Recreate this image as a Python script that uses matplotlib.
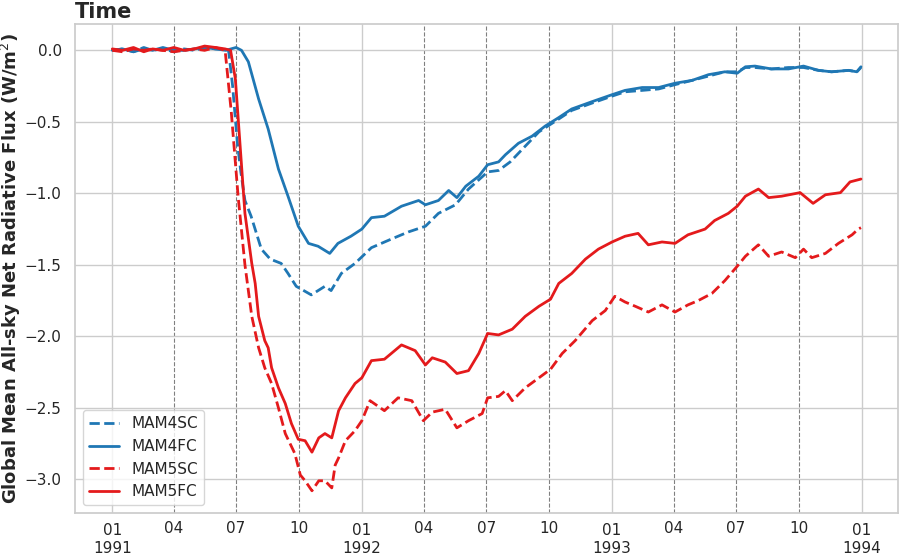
import matplotlib
matplotlib.use("Agg")
import matplotlib.pyplot as plt
import matplotlib.dates as mdates
import seaborn as sns
import pandas as pd

# values (W/m^2), one date list per run
pre_dates = ["1991-01-01", "1991-01-16", "1991-02-01", "1991-02-16", "1991-03-01",
             "1991-03-16", "1991-04-01", "1991-04-16", "1991-05-01", "1991-05-16",
             "1991-06-01"]

mam4sc_dates = pre_dates + [
    "1991-06-15", "1991-06-20", "1991-06-26", "1991-07-03", "1991-07-08", "1991-07-14",
    "1991-07-23", "1991-08-07", "1991-08-20", "1991-09-05", "1991-09-15", "1991-09-27",
    "1991-10-19", "1991-11-08", "1991-11-17", "1991-12-02", "1991-12-22",
    "1992-01-15", "1992-02-13", "1992-03-09", "1992-04-03", "1992-04-22", "1992-05-17",
    "1992-06-05", "1992-07-03", "1992-07-19", "1992-08-05", "1992-08-27", "1992-09-16",
    "1992-10-15", "1992-11-03", "1992-12-02", "1993-01-01", "1993-01-20", "1993-02-14",
    "1993-03-10", "1993-04-03", "1993-04-28", "1993-05-22", "1993-06-15", "1993-07-03",
    "1993-07-15", "1993-07-29", "1993-08-22", "1993-09-16", "1993-10-08", "1993-10-30",
    "1993-11-18", "1993-12-13", "1993-12-25", "1993-12-31"]
mam4sc = [0.00, 0.01, -0.01, 0.02, 0.00, 0.01, -0.01, 0.01, 0.00, 0.02, 0.01,
          0.01, 0.00, -0.25, -0.65, -0.85, -1.05,
          -1.16, -1.39, -1.46, -1.49, -1.56, -1.65,
          -1.71, -1.65, -1.68, -1.56, -1.49,
          -1.38, -1.32, -1.27, -1.23, -1.14, -1.08,
          -0.97, -0.85, -0.84, -0.78, -0.67, -0.57,
          -0.48, -0.42, -0.37, -0.32, -0.29, -0.28,
          -0.27, -0.24, -0.21, -0.18, -0.15, -0.15,
          -0.12, -0.12, -0.13, -0.12, -0.12, -0.14,
          -0.15, -0.14, -0.15, -0.12]

mam4fc_dates = pre_dates + [
    "1991-06-16", "1991-07-01", "1991-07-09", "1991-07-19", "1991-08-03", "1991-08-17",
    "1991-09-01", "1991-09-15", "1991-09-30", "1991-10-15", "1991-10-29", "1991-11-15",
    "1991-11-27", "1991-12-16", "1992-01-01", "1992-01-15", "1992-02-03", "1992-02-28",
    "1992-03-24", "1992-04-03", "1992-04-22", "1992-05-07", "1992-05-19", "1992-06-01",
    "1992-06-20", "1992-07-03", "1992-07-19", "1992-07-29", "1992-08-17", "1992-09-06",
    "1992-09-25", "1992-10-15", "1992-11-03", "1992-12-02", "1993-01-01", "1993-01-20",
    "1993-02-14", "1993-03-10", "1993-04-03", "1993-04-28", "1993-05-22", "1993-06-15",
    "1993-07-03", "1993-07-15", "1993-07-29", "1993-08-22", "1993-09-16", "1993-10-08",
    "1993-10-30", "1993-11-18", "1993-12-13", "1993-12-25", "1993-12-31"]
mam4fc = [0.00, 0.01, -0.01, 0.01, 0.00, 0.02, 0.00, 0.00, 0.01, 0.02, 0.01,
          0.00, 0.02, 0.00, -0.08, -0.34, -0.55,
          -0.83, -1.02, -1.23, -1.35, -1.37, -1.42,
          -1.35, -1.30, -1.25, -1.17, -1.16, -1.09,
          -1.05, -1.08, -1.05, -0.98, -1.03, -0.95,
          -0.88, -0.80, -0.78, -0.73, -0.65, -0.60,
          -0.53, -0.47, -0.41, -0.36, -0.31, -0.28,
          -0.26, -0.26, -0.23, -0.21, -0.17, -0.15,
          -0.16, -0.115, -0.11, -0.13, -0.13, -0.11,
          -0.14, -0.15, -0.14, -0.15, -0.115]

mam5sc_dates = pre_dates + [
    "1991-06-15", "1991-06-24", "1991-07-04", "1991-07-14", "1991-07-24", "1991-08-03",
    "1991-08-12", "1991-08-22", "1991-09-01", "1991-09-11", "1991-09-25", "1991-10-03",
    "1991-10-10", "1991-10-20", "1991-10-30", "1991-11-08", "1991-11-18", "1991-11-23",
    "1991-11-28", "1991-12-08", "1991-12-22", "1992-01-01", "1992-01-13", "1992-02-03",
    "1992-02-23", "1992-03-14", "1992-03-31", "1992-04-13", "1992-05-02", "1992-05-19",
    "1992-06-05", "1992-06-25", "1992-07-03", "1992-07-19", "1992-07-29", "1992-08-08",
    "1992-08-27", "1992-09-16", "1992-10-03", "1992-10-20", "1992-11-08", "1992-12-03",
    "1992-12-22", "1993-01-05", "1993-01-20", "1993-02-04", "1993-02-23", "1993-03-15",
    "1993-04-03", "1993-04-22", "1993-05-07", "1993-05-27", "1993-06-15", "1993-07-03",
    "1993-07-15", "1993-08-03", "1993-08-18", "1993-09-06", "1993-09-26", "1993-10-08",
    "1993-10-20", "1993-11-09", "1993-11-28", "1993-12-18", "1993-12-27", "1993-12-31"]
mam5sc = [0.00, -0.01, 0.01, 0.00, 0.01, 0.00, -0.01, 0.00, 0.01, 0.00, 0.02,
          0.00, -0.43, -1.02, -1.50, -1.86, -2.08,
          -2.22, -2.33, -2.50, -2.68, -2.82, -2.97,
          -3.01, -3.08, -3.01, -3.01, -3.06, -2.90,
          -2.85, -2.73, -2.66, -2.59, -2.45, -2.52,
          -2.43, -2.45, -2.59, -2.53, -2.51, -2.64,
          -2.59, -2.54, -2.43, -2.42, -2.38, -2.45,
          -2.36, -2.29, -2.23, -2.12, -2.03, -1.89,
          -1.82, -1.72, -1.76, -1.79, -1.83, -1.78,
          -1.83, -1.78, -1.75, -1.70, -1.61, -1.51,
          -1.44, -1.36, -1.44, -1.41, -1.45, -1.39,
          -1.45, -1.42, -1.35, -1.29, -1.25, -1.24]

mam5fc_dates = pre_dates + [
    "1991-06-15", "1991-06-23", "1991-06-30", "1991-07-07", "1991-07-14", "1991-07-24",
    "1991-07-29", "1991-08-03", "1991-08-12", "1991-08-17", "1991-08-22", "1991-09-01",
    "1991-09-11", "1991-09-20", "1991-09-30", "1991-10-10", "1991-10-20", "1991-10-30",
    "1991-11-08", "1991-11-18", "1991-11-28", "1991-12-08", "1991-12-22", "1992-01-01",
    "1992-01-15", "1992-02-03", "1992-02-28", "1992-03-19", "1992-04-03", "1992-04-13",
    "1992-05-02", "1992-05-19", "1992-06-05", "1992-06-20", "1992-07-03", "1992-07-19",
    "1992-08-08", "1992-08-27", "1992-09-16", "1992-10-03", "1992-10-15", "1992-11-03",
    "1992-11-23", "1992-12-12", "1993-01-01", "1993-01-20", "1993-02-08", "1993-02-23",
    "1993-03-15", "1993-04-03", "1993-04-22", "1993-05-17", "1993-05-31", "1993-06-20",
    "1993-07-03", "1993-07-15", "1993-08-03", "1993-08-18", "1993-09-06", "1993-10-03",
    "1993-10-22", "1993-11-09", "1993-12-01", "1993-12-15", "1993-12-31"]
mam5fc = [0.01, 0.00, 0.02, -0.01, 0.01, 0.00, 0.02, 0.00, 0.01, 0.03, 0.02,
          0.01, 0.00, -0.20, -0.67, -1.14, -1.49,
          -1.63, -1.86, -2.03, -2.08, -2.22, -2.36,
          -2.47, -2.61, -2.72, -2.73, -2.81, -2.71,
          -2.68, -2.71, -2.52, -2.43, -2.33, -2.29,
          -2.17, -2.16, -2.06, -2.10, -2.20, -2.15,
          -2.18, -2.26, -2.24, -2.12, -1.98, -1.99,
          -1.95, -1.86, -1.79, -1.74, -1.63, -1.56,
          -1.46, -1.39, -1.34, -1.30, -1.28, -1.36,
          -1.34, -1.35, -1.29, -1.25, -1.19, -1.14,
          -1.09, -1.02, -0.97, -1.03, -1.02, -0.995,
          -1.07, -1.01, -0.995, -0.92, -0.90]

blue = "#1f77b4"
red = "#e41a1c"

sns.set_theme(style="whitegrid")
plt.rcParams["font.family"] = ["DejaVu Sans"]

fig, ax = plt.subplots(figsize=(9.02, 5.54), dpi=100)
fig.subplots_adjust(left=0.083, right=0.996, top=0.957, bottom=0.074)

lw = 2.0
ax.plot(pd.to_datetime(mam4sc_dates), mam4sc, color=blue, ls="--", lw=lw, label="MAM4SC")
ax.plot(pd.to_datetime(mam4fc_dates), mam4fc, color=blue, ls="-", lw=lw, label="MAM4FC")
ax.plot(pd.to_datetime(mam5sc_dates), mam5sc, color=red, ls="--", lw=lw, label="MAM5SC")
ax.plot(pd.to_datetime(mam5fc_dates), mam5fc, color=red, ls="-", lw=lw, label="MAM5FC")

ax.xaxis.set_major_locator(mdates.MonthLocator(bymonth=[1]))
ax.xaxis.set_major_formatter(mdates.DateFormatter("%m\n%Y"))
ax.xaxis.set_minor_locator(mdates.MonthLocator(bymonth=[4, 7, 10]))
ax.xaxis.set_minor_formatter(mdates.DateFormatter("%m"))
ax.tick_params(axis="x", which="both", labelsize=11, pad=1.5)
ax.grid(which="minor", axis="x", linestyle="--", color="gray", linewidth=0.8)

ax.set_title("Time", loc="left", fontweight="bold", fontsize=15, pad=4)
ax.set_ylabel("Global Mean All-sky Net Radiative Flux (W/m$^2$)", fontweight="bold",
              fontsize=13, labelpad=1)
ax.legend(loc="lower left", fontsize=11)

plt.savefig("out.png")
